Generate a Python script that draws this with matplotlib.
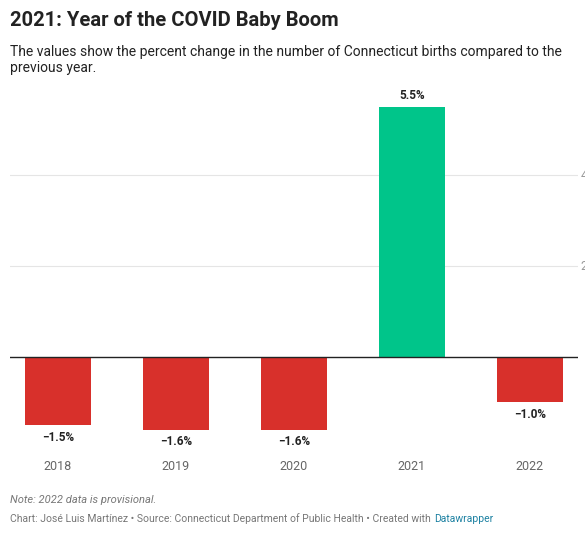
import matplotlib.pyplot as plt

years = ["2018", "2019", "2020", "2021", "2022"]
change = [-1.5, -1.6, -1.6, 5.5, -1.0]
labels = ["\u22121.5%", "\u22121.6%", "\u22121.6%", "5.5%", "\u22121.0%"]
colors = ["#d8302b", "#d8302b", "#d8302b", "#00c58a", "#d8302b"]

plt.rcParams['font.family'] = ['Roboto', 'DejaVu Sans']
fig = plt.figure(figsize=(5.85, 5.33), dpi=100)
ax = fig.add_axes([10/585, 1 - 457/533, 568/585, 359/533])

x = range(len(years))
ax.bar(x, change, width=0.56, color=colors, zorder=2)
for xi, v, lab in zip(x, change, labels):
    off = 0.12 if v > 0 else -0.12
    ax.text(xi, v + off, lab, ha="center", va="bottom" if v > 0 else "top",
            fontsize=8.5, fontweight="bold", color="#222222")

for g in (2, 4):
    ax.axhline(g, color="#e5e5e5", lw=0.8, zorder=0)
    ax.text(1.005, g, str(g), transform=ax.get_yaxis_transform(), ha="left",
            va="center", fontsize=9, color="#999999", clip_on=False)
ax.axhline(0, color="#222222", lw=1, zorder=3)

ax.set_xlim(-0.407, 4.407)
ax.set_ylim(-2.2, 5.7)
ax.set_xticks(list(x))
ax.set_xticklabels(years, fontsize=9, color="#666666")
ax.tick_params(axis="x", length=0, pad=2)
ax.set_yticks([])
for s in ax.spines.values():
    s.set_visible(False)

fig.text(10/585, 1 - 20/533, "2021: Year of the COVID Baby Boom", fontsize=14.5,
         fontweight="bold", va="center", color="#222222")
fig.text(10/585, 1 - 60/533,
         "The values show the percent change in the number of Connecticut births compared to the\nprevious year.",
         fontsize=10, va="center", color="#222222", linespacing=1.2)
fig.text(10/585, 1 - 500/533, "Note: 2022 data is provisional.", fontsize=8,
         style="italic", color="#777777", va="center")
credit = fig.text(10/585, 1 - 519/533,
                  "Chart: José Luis Martínez \u2022 Source: Connecticut Department of Public Health \u2022 Created with",
                  fontsize=7.5, color="#777777", va="center")
fig.canvas.draw()
bb = credit.get_window_extent()
fig.text((bb.x1 + 3) / 585, 1 - 519/533, "Datawrapper", fontsize=7.5, color="#1d81a2", va="center")

fig.savefig("out.png", dpi=100)
